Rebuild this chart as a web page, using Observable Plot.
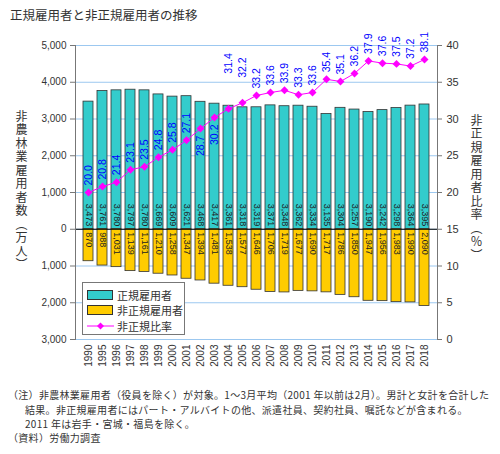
<!DOCTYPE html>
<html>
<head>
<meta charset="utf-8">
<script src="https://cdn.jsdelivr.net/npm/d3@7"></script>
<script src="https://cdn.jsdelivr.net/npm/@observablehq/plot@0.6"></script>
<style>
  body { margin: 0; background: #fff; font-family: "Noto Sans CJK JP", sans-serif; color: #222; }
  #wrap { position: relative; width: 500px; height: 454px; overflow: hidden; }
  #title { position: absolute; left: 10px; top: 5px; font-size: 12.5px; color: #333; }
  #chart { position: absolute; left: 0; top: 26px; }
  .ytitle { position: absolute; writing-mode: vertical-rl; font-size: 12px; letter-spacing: 1.5px; color: #333; }
  #legend { position: absolute; left: 82px; top: 282px; width: 101px; height: 47px; border: 1px solid #777;
            background: #fff; padding-top: 4px; box-sizing: content-box; }
  #legend .row { height: 15.5px; display: flex; align-items: center; font-size: 11px; color: #333; white-space: nowrap; }
  #legend .sw { display: inline-block; width: 24px; height: 8px; border: 1px solid #333; margin: 0 4px 0 4px; }
  #legend svg { margin: 0 3px 0 4px; }
  #note { position: absolute; left: 8px; top: 388px; font-size: 10px; line-height: 14.5px; letter-spacing: 0.3px; color: #333; white-space: nowrap; }
  #note div { height: 14.5px; }
  #note .ind { padding-left: 17px; }
  #src { position: absolute; left: 8px; top: 431px; font-size: 10px; line-height: 14.5px; letter-spacing: 0.3px; color: #333; white-space: nowrap; }
</style>
</head>
<body>
<div id="wrap">
  <div id="title">正規雇用者と非正規雇用者の推移</div>
  <div id="chart"></div>
  <div class="ytitle" style="left:13px; top:110px;">非農林業雇用者数（万人）</div>
  <div class="ytitle" style="left:468px; top:114px;">非正規雇用者比率（％）</div>
  <div id="legend">
    <div class="row"><span class="sw" style="background:#33cccc"></span>正規雇用者</div>
    <div class="row"><span class="sw" style="background:#ffcc00"></span>非正規雇用者</div>
    <div class="row"><svg width="27" height="10"><line x1="0" y1="5" x2="27" y2="5" stroke="#ff00ff" stroke-width="1"/><path d="M13.5,1.5L17,5L13.5,8.5L10,5Z" fill="#ff00ff"/></svg>非正規比率</div>
  </div>
  <div id="note">
    <div>（注）非農林業雇用者（役員を除く）が対象。1～3月平均（2001 年以前は2月）。男計と女計を合計した</div>
    <div class="ind">結果。非正規雇用者にはパート・アルバイトの他、派遣社員、契約社員、嘱託などが含まれる。</div>
    <div class="ind">2011 年は岩手・宮城・福島を除く。</div>
  </div>
  <div id="src">（資料）労働力調査</div>
</div>
<script>
// 年（最初の目盛は原図どおり 1990）
const years = ["1990", "1995", "1996", "1997", "1998", "1999", "2000", "2001", "2002", "2003", "2004", "2005",
  "2006", "2007", "2008", "2009", "2010", "2011", "2012", "2013", "2014", "2015", "2016", "2017", "2018"];

// 正規雇用者（万人）
const regular = [3473, 3761, 3780, 3797, 3780, 3669, 3609, 3621, 3468, 3417, 3361, 3318,
  3319, 3371, 3348, 3362, 3334, 3135, 3304, 3257, 3190, 3242, 3298, 3364, 3395];

// 非正規雇用者（万人）
const nonRegular = [870, 988, 1031, 1139, 1161, 1210, 1258, 1347, 1394, 1481, 1538, 1577,
  1646, 1706, 1719, 1677, 1690, 1717, 1786, 1850, 1947, 1956, 1983, 1990, 2090];

// 非正規比率（%）
const ratio = [20.0, 20.8, 21.4, 23.1, 23.5, 24.8, 25.8, 27.1, 28.7, 30.2, 31.4, 32.2,
  33.2, 33.6, 33.9, 33.3, 33.6, 35.4, 35.1, 36.2, 37.9, 37.6, 37.5, 37.2, 38.1];

const leftTicks = [-3000, -2000, -1000, 0, 1000, 2000, 3000, 4000, 5000];
const rightTicks = [0, 5, 10, 15, 20, 25, 30, 35, 40];

const rows = years.map((year, i) => ({ year, regular: regular[i], nonRegular: nonRegular[i], ratio: ratio[i] }));

// 右軸(0〜40%)を左軸(-3000〜5000)に重ねる
const toY = r => r * 200 - 3000;
const fromY = v => (v + 3000) / 200;

// 比率ラベルの置き方
const below = ["2002", "2003"];
const lifted = { "2004": -35, "2005": -25 };
const fmt = d3.format(",");
const blue = "#0000ff";

const ratioMarks = [
  Plot.text(rows.filter(d => !below.includes(d.year) && !(d.year in lifted)), {
    x: "year", y: d => toY(d.ratio), text: d => d.ratio.toFixed(1),
    rotate: -90, textAnchor: "start", dy: -7, fill: blue, fontSize: 10.5
  }),
  Plot.text(rows.filter(d => below.includes(d.year)), {
    x: "year", y: d => toY(d.ratio), text: d => d.ratio.toFixed(1),
    rotate: -90, textAnchor: "end", dy: 7, fill: blue, fontSize: 10.5
  })
];
Object.keys(lifted).forEach(yr => {
  ratioMarks.push(Plot.text(rows.filter(d => d.year === yr), {
    x: "year", y: d => toY(d.ratio), text: d => d.ratio.toFixed(1),
    rotate: -90, textAnchor: "start", dy: lifted[yr], fill: blue, fontSize: 10.5
  }));
});

const chart = Plot.plot({
  width: 500,
  height: 345,
  marginTop: 19,
  marginBottom: 32,
  marginLeft: 75,
  marginRight: 63,
  style: { fontFamily: "Liberation Sans, Arial, sans-serif", fontSize: "10px", color: "#333", background: "white" },
  x: { type: "band", domain: years, padding: 0.28, label: null },
  y: { domain: [-3000, 5000], label: null },
  marks: [
    Plot.gridY(leftTicks, { stroke: "#9cc8f0", strokeOpacity: 1 }),
    Plot.barY(rows, { x: "year", y: "regular", fill: "#33cccc", stroke: "#333", strokeWidth: 0.8 }),
    Plot.barY(rows, { x: "year", y: d => -d.nonRegular, fill: "#ffcc00", stroke: "#333", strokeWidth: 0.8 }),
    Plot.ruleY([0], { stroke: "#000" }),
    Plot.frame({ anchor: "left", stroke: "#777" }),
    Plot.frame({ anchor: "right", stroke: "#777" }),
    Plot.axisY(leftTicks, { anchor: "left", tickFormat: d => fmt(Math.abs(d)), tickSize: 5, tickPadding: 4, label: null, stroke: "#777" }),
    Plot.axisY(rightTicks.map(toY), { anchor: "right", tickFormat: d => String(fromY(d)), tickSize: 4, tickPadding: 5, label: null, stroke: "#777", fontSize: 11 }),
    Plot.axisX({ tickRotate: -90, tickSize: 0, tickPadding: 5, label: null }),
    // 棒の中の数値
    Plot.text(rows, { x: "year", y: d => 0, text: d => fmt(d.regular), rotate: 90, textAnchor: "end", dy: -3, fontSize: 9, fill: "#222" }),
    Plot.text(rows, { x: "year", y: d => 0, text: d => fmt(d.nonRegular), rotate: 90, textAnchor: "start", dy: 3, fontSize: 9, fill: "#222" }),
    Plot.line(rows, { x: "year", y: d => toY(d.ratio), stroke: "#ff00ff", strokeWidth: 1 }),
    Plot.dot(rows, { x: "year", y: d => toY(d.ratio), symbol: "diamond2", r: 3.6, fill: "#ff00ff" }),
    ...ratioMarks
  ]
});

d3.select("#chart").append(() => chart);
</script>
</body>
</html>
